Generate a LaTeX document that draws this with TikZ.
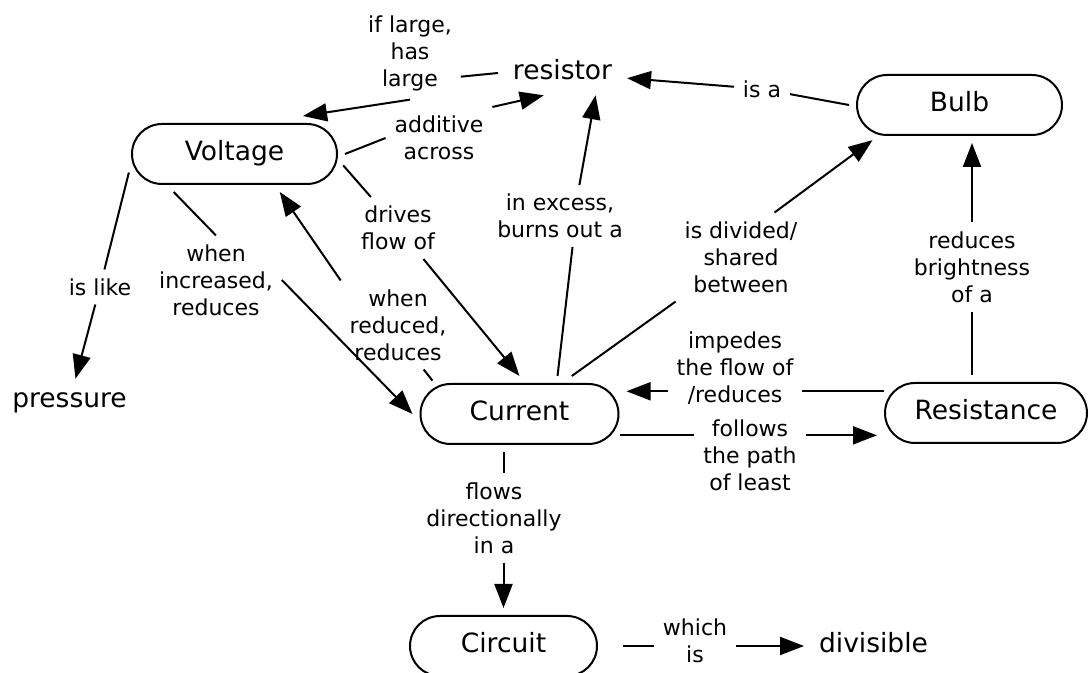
\documentclass[tikz,border=0pt]{standalone}
\usepackage{fontspec}
\setmainfont{DejaVu Sans}
\usetikzlibrary{arrows.meta,shapes.misc}

\begin{document}
\begin{tikzpicture}[x=0.5pt, y=-0.5pt, >={Triangle[length=12pt,width=9pt]}, line width=1pt,
  concept/.style={draw, rounded rectangle, minimum height=30pt, minimum width=#1,
    inner sep=0pt, outer sep=4pt, text height=10pt, text depth=3.3pt,
    font=\fontsize{13.25pt}{16pt}\selectfont},
  concept/.default=100pt,
  word/.style={inner xsep=7pt, inner ysep=4pt, text height=10pt, text depth=3.3pt,
    font=\fontsize{13.25pt}{16pt}\selectfont},
  link/.style={align=center, inner sep=4pt, font=\fontsize{11pt}{13.5pt}\selectfont}]
  \useasboundingbox (0,0) rectangle (1089,673);

  % concepts
  \node[concept=102.5pt] (volt) at (234.5,154) {Voltage};
  \node[concept=102.5pt] (bulb) at (959.5,105) {Bulb};
  \node[concept=99pt] (cur) at (519.5,414) {Current};
  \node[concept=101pt] (res) at (986,413) {Resistance};
  \node[concept=93.5pt] (circ) at (503.5,646) {Circuit};
  \node[word] (resistor) at (562.5,73) {resistor};
  \node[word] (pressure) at (69.5,401) {pressure};
  \node[word] (divisible) at (873.5,646) {divisible};

  % linking words
  \node[link] (l1) at (410,53) {if large,\\has\\large};
  \node[link] (l2) at (439,138) {additive\\across};
  \node[link] (l3) at (762,89) {is a};
  \node[link] (l4) at (100,287) {is like};
  \node[link] (l5) at (216,280) {when\\increased,\\reduces};
  \node[link] (l6) at (398,325) {when\\reduced,\\reduces};
  \node[link] (l7) at (398,228) {drives\\flow of};
  \node[link] (l8) at (560,216) {in excess,\\burns out a};
  \node[link] (l9) at (741,257) {is divided/\\shared\\between};
  \node[link] (l10) at (735,368) {impedes\\the flow of\\/reduces};
  \node[link] (l11) at (750,455) {follows\\the path\\of least};
  \node[link] (l12) at (972,267) {reduces\\brightness\\of a};
  \node[link] (l13) at (494,518) {flows\\directionally\\in a};
  \node[link] (l14) at (695,641) {which\\is};

  % links
  \draw (resistor.west) -- (l1.-25);
  \draw[->] (l1.south) -- (volt.29);
  \draw (volt.east) -- (l2.west);
  \draw[->] (l2.north east) -- (resistor.-130);
  \draw (bulb.west) -- (l3);
  \draw[->] (l3) -- (resistor);
  \draw (volt.190) -- (l4);
  \draw[->] (l4) -- (pressure);
  \draw (volt.212) -- (l5.north);
  \draw[->] (l5.east) -- (cur.west);
  \draw (cur.159) -- (l6.-60);
  \draw[->] (l6.north west) -- (volt.-40);
  \draw (volt.-6) -- (l7);
  \draw[->] (l7) -- (cur.north);
  \draw (cur.45) -- (l8.-68);
  \draw[->] (l8.58) -- (resistor.-34);
  \draw (cur.36) -- (l9.south west);
  \draw[->] (l9.53) -- (bulb.202);
  \draw (res.168) -- (res.168 -| l10.east);
  \draw[->] (res.168 -| l10.west) -- (res.168 -| cur.east);
  \draw (cur.-12) -- (cur.-12 -| l11.west);
  \draw[->] (cur.-12 -| l11.east) -- (cur.-12 -| res.west);
  \draw (l12 |- res.north) -- (l12.south);
  \draw[->] (l12.north) -- (l12 |- bulb.south);
  \draw (circ |- cur.south) -- (circ |- l13.north);
  \draw[->] (circ |- l13.south) -- (circ.north);
  \draw[shorten <=9pt] (circ.east) -- (circ.east -| l14.west);
  \draw[->] (circ.east -| l14.east) -- (divisible.west);
\end{tikzpicture}
\end{document}
